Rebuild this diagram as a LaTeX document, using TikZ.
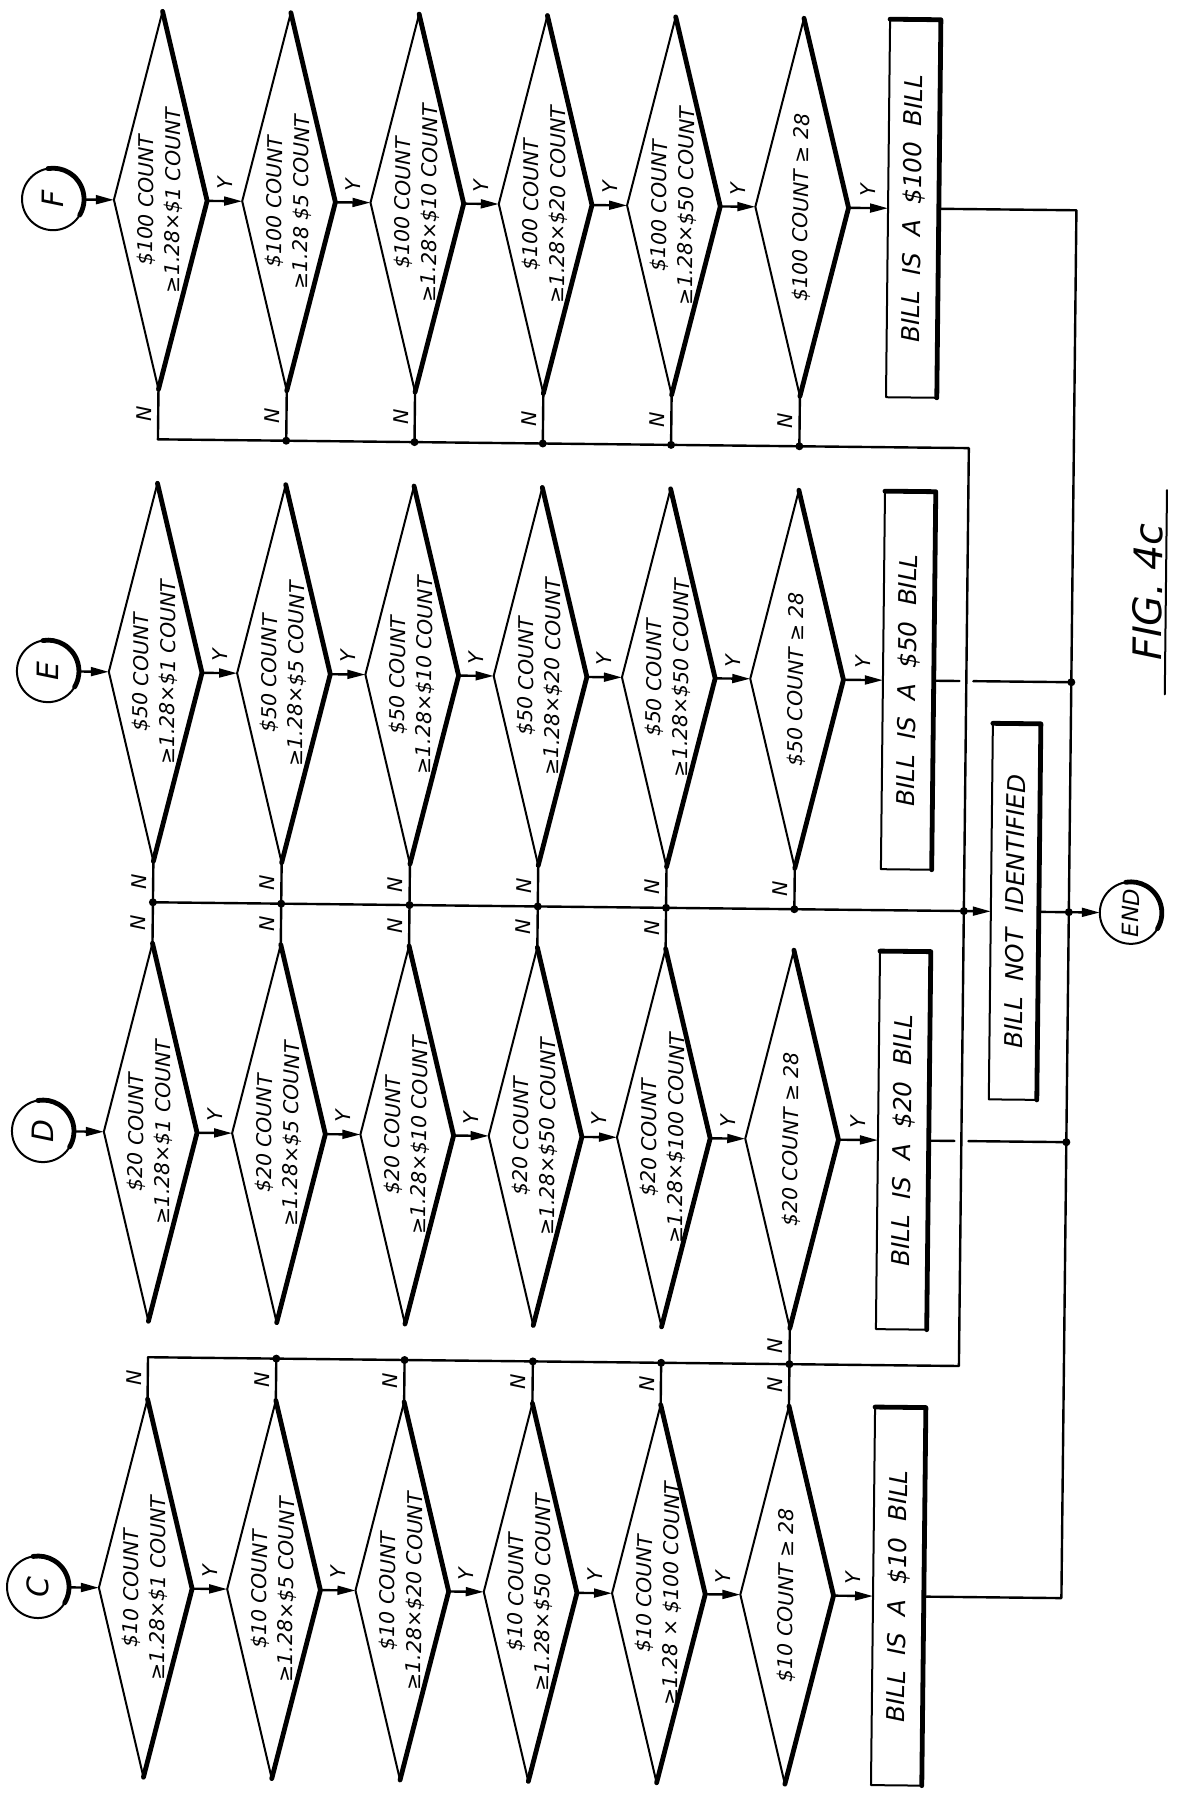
\documentclass[tikz,border=0pt]{standalone}
\usepackage{fontspec}
\setmainfont{DejaVu Sans}
\usetikzlibrary{arrows.meta,shapes.geometric}
\begin{document}
\begin{tikzpicture}[x=0.025cm,y=0.025cm,rotate=90,transform shape,
  line cap=round,line join=round,line width=0.6mm,
  >={Triangle[length=4.5mm,width=2.2mm]},
  every node/.style={font=\itshape\fontsize{14.5}{19}\selectfont},
  decide/.style={shape=diamond,draw,line width=0.5mm,minimum width=9.45cm,minimum height=2.33cm,inner sep=0pt,outer sep=0pt},
  ttext/.style={align=center,inner sep=0pt},
  result/.style={draw,line width=0.5mm,minimum width=9.45cm,minimum height=1.27cm,inner sep=0pt,outer sep=0pt,font=\itshape\fontsize{17.5}{21}\selectfont},
  link/.style={draw,circle,line width=0.5mm,minimum size=1.55cm,inner sep=0pt,outer sep=0pt},
  heavy/.style={line width=1.2mm}]
\useasboundingbox (0,-1179) rectangle (1793,0);
\begin{scope}[rotate around={-0.62:(896.5,-589.5)}]
% entry circles and result boxes
\foreach \c/\u/\amt in {C/200/10,D/656/20,E/1116/50,F/1588/100}{
  \node[link,font=\itshape\fontsize{21}{24}\selectfont] (\c0) at (\u,-45.5) {\c};
  \node[result] (\c7) at (\u,-906) {BILL\ \ IS\ \ A\ \ \$\amt\ \ BILL};
  \draw[heavy] (\c7.north east)--(\c7.south east)--(\c7.south west);
  \draw[heavy] (\c0.-120) arc(-120:10:0.775cm);
}
% decision columns
\foreach \c/\u/\amt/\vals in {C/200/10/{×\$1,×\$5,×\$20,×\$50,\ ×\ \$100},
  D/656/20/{×\$1,×\$5,×\$10,×\$50,×\$100},
  E/1116/50/{×\$1,×\$5,×\$10,×\$20,×\$50},
  F/1588/100/{×\$1,\ \$5,×\$10,×\$20,×\$50}}{
  \foreach \cmp [count=\i] in \vals
    \node[decide,label={[ttext]center:\$\amt\ COUNT\\≥1.28\cmp\ COUNT}] (\c\i) at (\u,{-24.7-128.3*\i}) {};
  \node[decide,label={[ttext]center:\$\amt\ COUNT ≥ 28}] (\c6) at (\u,{-24.7-128.3*6}) {};
  \foreach \i in {1,...,6}
    \draw[heavy] (\c\i.east)--(\c\i.south)--(\c\i.west);
}
% yes branches
\foreach \c in {C,D,E,F}{
  \draw[->] (\c0)--(\c1);
  \foreach \i [evaluate=\i as \j using int(\i+1)] in {1,...,6}
    \draw[->] (\c\i)--(\c\j) node[midway,right=1.4mm]{Y};
}
% no branches
\foreach \i in {1,...,6}{
  \coordinate (fn\i) at (1349,{-24.7-128.3*\i});
  \coordinate (en\i) at (886,{-24.7-128.3*\i});
  \coordinate (cn\i) at (431,{-24.7-128.3*\i});
  \draw (F\i.west)--(fn\i) node[midway,above=0.2mm]{N};
  \draw (E\i.west)--(en\i) node[midway,above=0.2mm]{N};
  \draw (C\i.east)--(cn\i) node[midway,above=0.2mm]{N};
}
\foreach \i in {1,...,5}
  \draw (D\i.east)--(en\i) node[midway,above=0.2mm]{N};
\draw (D6.west)--(cn6) node[midway,above=0.2mm]{N};
\node[result,minimum width=9.4cm,minimum height=1.2cm] (NI) at (886,-1015) {BILL\ \ NOT\ \ IDENTIFIED};
\draw[heavy] (NI.north east)--(NI.south east)--(NI.south west);
\node[link,font=\itshape\fontsize{16}{19}\selectfont] (END) at (886,-1131) {END};
\draw[heavy] (END.-120) arc(-120:10:0.775cm);
\coordinate (fc) at (1349,-964);
\coordinate (ec) at (886,-964);
\coordinate (cc) at (431,-964);
\draw (fn1)--(fc)--(cc)--(cn1);
\draw[->] (en1)--(NI);
% outputs
\coordinate (fo) at (1588,-1069);
\coordinate (co) at (200,-1069);
\coordinate (xo) at (886,-1069);
\draw (F7)--(fo)--(co)--(C7);
\foreach \c/\u in {D/656,E/1116}{
  \coordinate (\c7a) at (\u,-957);
  \coordinate (\c7b) at (\u,-971);
  \coordinate (\c7o) at (\u,-1069);
  \draw (\c7)--(\c7a) (\c7b)--(\c7o);
}
\draw[->] (NI)--(END);
\foreach \p in {fn2,fn3,fn4,fn5,fn6,en1,en2,en3,en4,en5,en6,ec,cn2,cn3,cn4,cn5,cn6,D7o,E7o,xo}
  \fill (\p) circle (4);
\node[anchor=base,font=\itshape\fontsize{28}{32}\selectfont] (fig) at (1207,-1159) {FIG.\ 4c};
\draw[line width=0.5mm] ([xshift=-7mm,yshift=-0.9mm]fig.base west)--([xshift=7mm,yshift=-0.9mm]fig.base east);
\end{scope}
\end{tikzpicture}
\end{document}
